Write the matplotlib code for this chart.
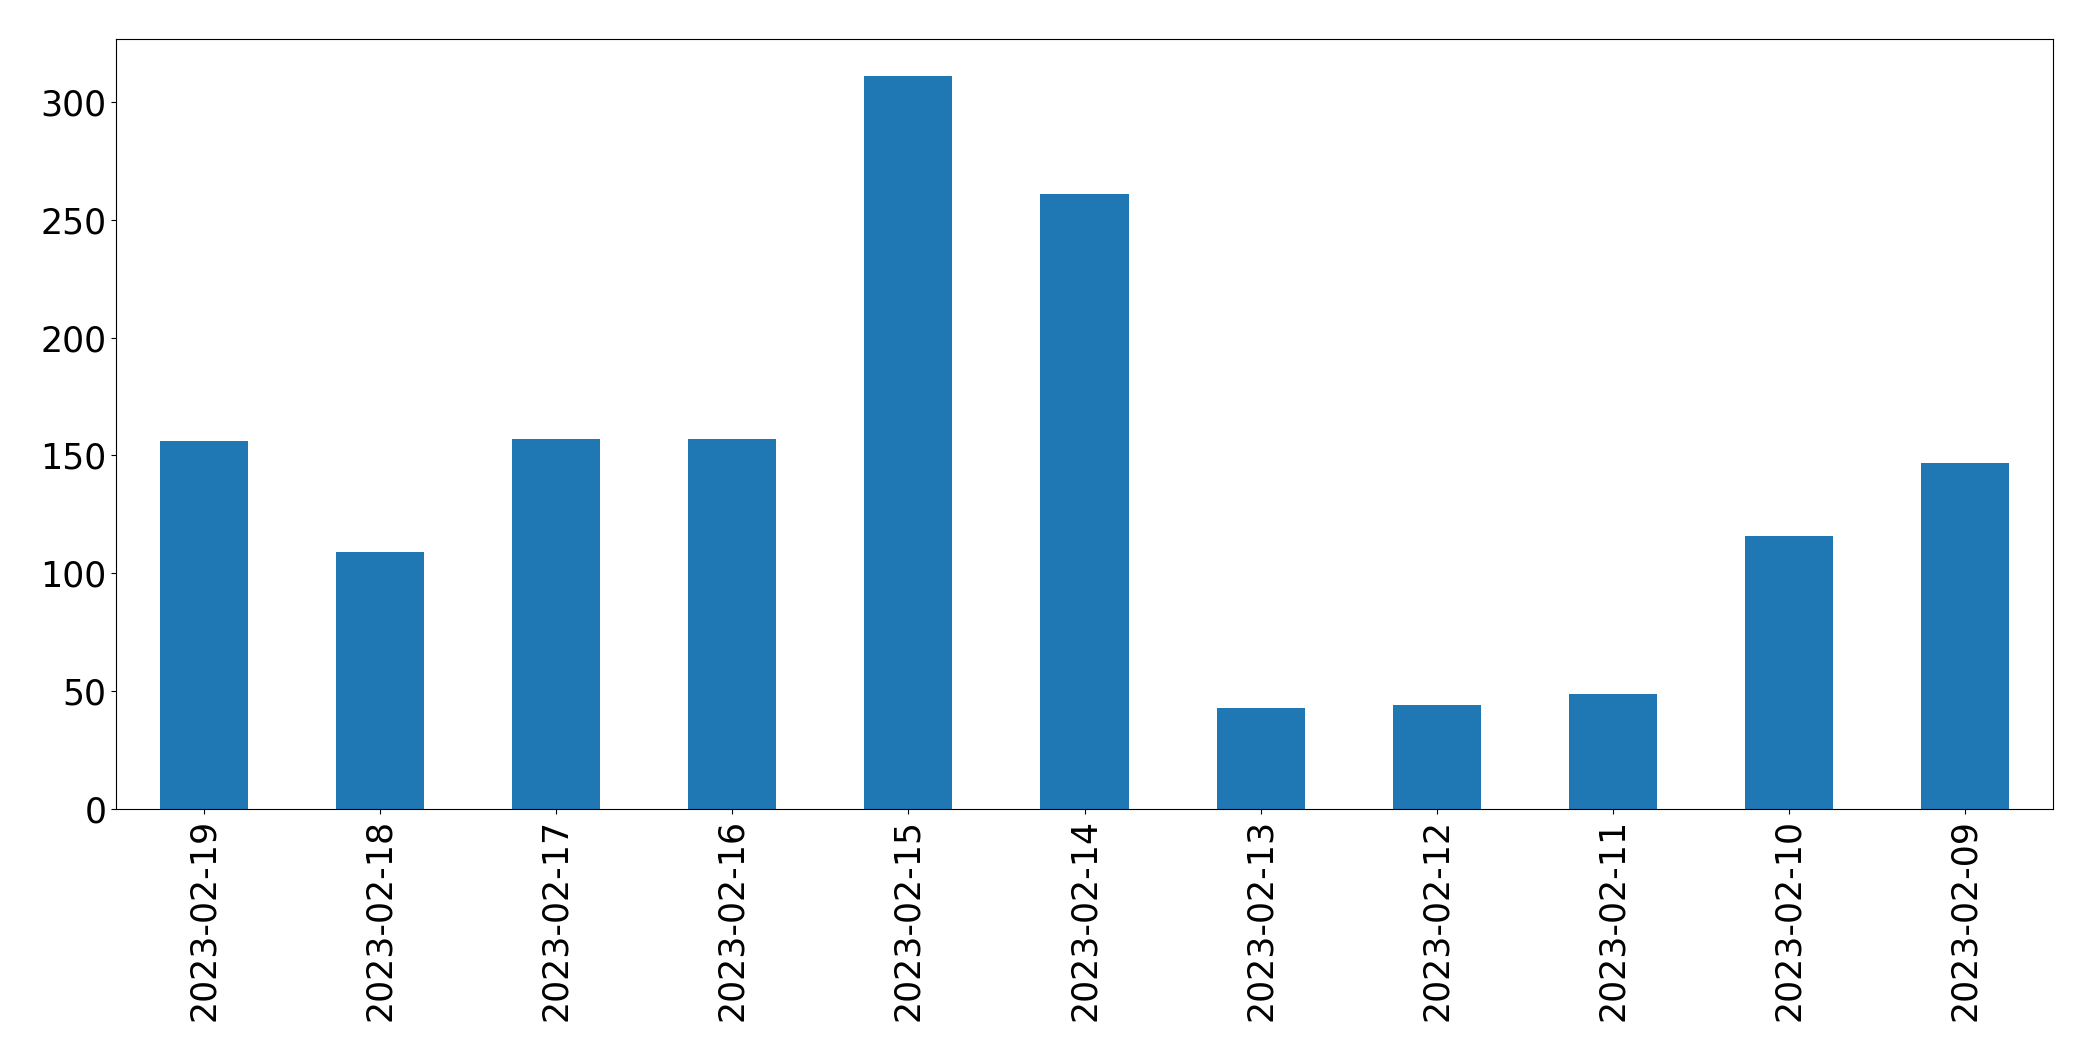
import matplotlib
matplotlib.use("Agg")
import matplotlib.pyplot as plt

dates = ["2023-02-19", "2023-02-18", "2023-02-17", "2023-02-16", "2023-02-15",
         "2023-02-14", "2023-02-13", "2023-02-12", "2023-02-11", "2023-02-10",
         "2023-02-09"]
counts = [156, 109, 157, 157, 311, 261, 43, 44, 49, 116, 147]

fig = plt.figure(figsize=(20.93, 10.61), dpi=100)
ax = fig.add_axes([116/2093, 1-809/1061, (2053-116)/2093, (809-39.3)/1061])
x = list(range(len(dates)))
ax.bar(x, counts, width=0.5, color="#1f77b4")
ax.set_xlim(-0.5, len(dates) - 0.5)
ax.set_xticks(x)
ax.set_xticklabels(dates, rotation=90)
ax.tick_params(axis="both", labelsize=25)
fig.savefig("out.png", dpi=100)
